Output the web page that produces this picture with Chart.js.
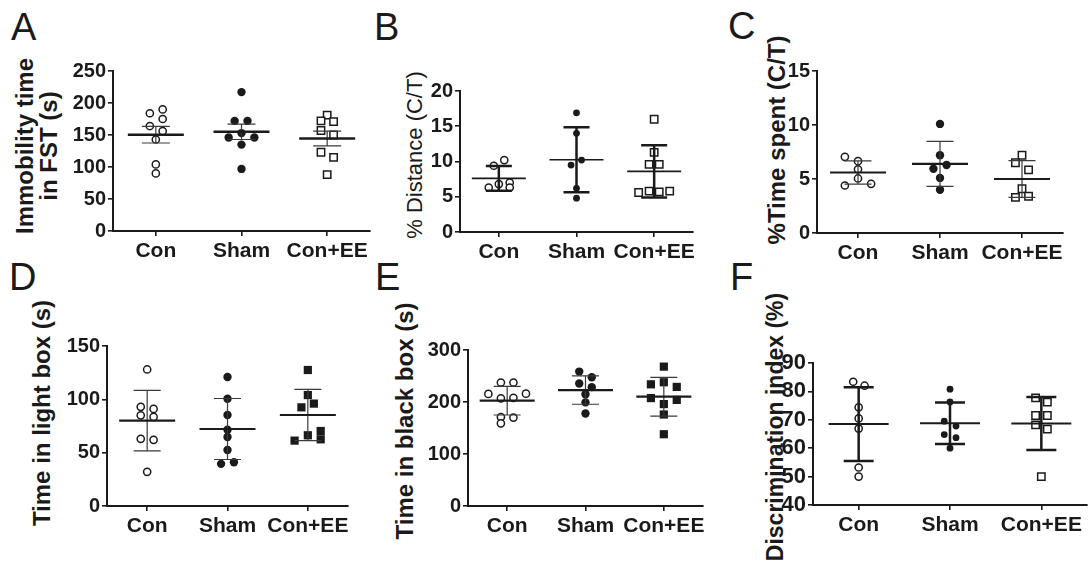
<!DOCTYPE html>
<html><head><meta charset="utf-8">
<script src="https://cdn.jsdelivr.net/npm/chart.js@4/dist/chart.umd.min.js"></script>
<style>
html,body{margin:0;padding:0;background:#fff}
body{width:1091px;height:567px;position:relative;overflow:hidden;font-family:"Liberation Sans",Arial,sans-serif;color:#1a1a1a}
.letter{position:absolute;font-size:38px;line-height:38px;font-weight:normal}
.yt{position:absolute;white-space:nowrap;text-align:center;transform:translate(-50%,-50%) rotate(-90deg);font-weight:bold;font-size:24px;line-height:24px}
canvas{position:absolute}
</style></head>
<body>
<div class="letter" style="left:11px;top:8px">A</div>
<div class="letter" style="left:374px;top:8px">B</div>
<div class="letter" style="left:728px;top:7px">C</div>
<div class="letter" style="left:9px;top:258px">D</div>
<div class="letter" style="left:375px;top:258px">E</div>
<div class="letter" style="left:730px;top:258px">F</div>
<div class="yt" style="left:37px;top:146px">Immobility time<br>in FST (s)</div>
<div class="yt" style="left:415px;top:155px;font-weight:normal;font-size:22px">% Distance (C/T)</div>
<div class="yt" style="left:777px;top:140px">%Time spent (C/T)</div>
<div class="yt" style="left:42px;top:413px">Time in light box (s)</div>
<div class="yt" style="left:405px;top:421px">Time in black box (s)</div>
<div class="yt" style="left:775px;top:427px;font-size:23px">Discrimination index (%)</div>
<script>
// ---------- data ----------
const categories = ['Con', 'Sham', 'Con+EE'];

// A: Immobility time in FST (s)
const conA  = [184, 190, 175, 164, 156, 143, 104, 90];
const conAx = [-0.07, 0.08, 0.08, -0.07, 0.08, 0, 0, 0];
const shamA  = [217, 172, 172, 146, 153, 146, 135, 97];
const shamAx = [0, -0.08, 0.07, -0.15, 0, 0.15, 0, 0];
const eeA  = [181, 172, 171, 157, 150, 123, 115, 88];
const eeAx = [0, -0.072, 0.075, -0.072, 0.075, -0.072, 0.075, 0];
const meanA = [150.5, 155, 144.5];
const errA  = [13, 12, 11.5];
const ticksA = [0, 50, 100, 150, 200, 250];

// B: % Distance (C/T)
const conB  = [10.2, 9.4, 6.8, 6.3, 7.0, 6.3];
const conBx = [0.07, -0.065, 0, -0.13, 0.14, 0.14];
const shamB  = [16.9, 14.0, 10.2, 9.5, 6.2, 4.8];
const shamBx = [0, 0, 0.065, -0.07, 0, 0];
const eeB  = [16.0, 11.3, 9.6, 9.6, 5.8, 5.6, 5.7, 5.8];
const eeBx = [0, 0, -0.065, 0.065, -0.065, -0.2, 0.065, 0.2];
const meanB = [7.6, 10.25, 8.6];
const errB  = [1.75, 4.6, 3.7];
const ticksB = [0, 5, 10, 15, 20];

// C: %Time spent (C/T)
const conC  = [7.05, 6.65, 5.9, 5.05, 4.4, 4.55];
const conCx = [-0.16, 0, 0, 0, -0.16, 0.16];
const shamC  = [10.1, 7.2, 5.95, 6.3, 5.1, 4.0];
const shamCx = [0, 0, -0.08, 0.08, 0, 0];
const eeC  = [7.2, 6.5, 5.85, 4.1, 3.3, 3.4];
const eeCx = [0, -0.08, 0.08, 0, -0.08, 0.08];
const meanC = [5.6, 6.4, 5.0];
const errC  = [1.08, 2.08, 1.7];
const ticksC = [0, 5, 10, 15];

// D: Time in light box (s)
const conD  = [128, 93, 91, 85, 83.5, 63, 62, 32];
const conDx = [0, -0.08, 0.08, -0.08, 0.08, -0.08, 0.08, 0];
const shamD  = [121, 100.5, 85.3, 71.5, 64.7, 52.5, 39.5, 41];
const shamDx = [0, 0, 0, 0, 0, 0, -0.08, 0.08];
const eeD  = [127.5, 104, 96, 92.5, 70.3, 66.3, 62.5, 61.3];
const eeDx = [0, 0, 0.075, -0.08, 0.16, 0, 0.16, -0.165];
const meanD = [80, 72.2, 85.3];
const errD  = [28.4, 28.6, 24];
const ticksD = [0, 50, 100, 150];

// E: Time in black box (s)
const conE  = [237.5, 237.5, 215.5, 216, 207, 208, 171, 170, 159];
const conEx = [-0.08, 0.08, -0.24, 0.24, -0.08, 0.08, -0.08, 0.08, -0.08];
const shamE  = [258.5, 247.7, 235.5, 228.6, 215, 199.3, 178];
const shamEx = [-0.08, 0.08, -0.08, 0.08, 0, 0, 0];
const eeE  = [268, 238, 234, 229, 207.5, 204, 196, 176, 138];
const eeEx = [0, 0, -0.165, 0.165, -0.165, 0.165, 0, 0, 0];
const meanE = [202.5, 223, 210.2];
const errE  = [27.5, 27.3, 37.2];
const ticksE = [0, 100, 200, 300];

// F: Discrimination index (%)
const conF  = [83.4, 82, 74.4, 70.5, 66.9, 53.2, 50];
const conFx = [-0.06, 0.065, 0, 0, 0, 0, 0];
const shamF  = [80.8, 76.3, 69.5, 67.8, 64.8, 63.7, 60];
const shamFx = [0, 0, -0.063, 0.066, -0.063, 0.066, 0];
const eeF  = [77.7, 76.2, 71.5, 71.5, 68.2, 66.7, 50];
const eeFx = [-0.063, 0.066, -0.063, 0.066, -0.063, 0.066, 0];
const meanF = [68.5, 68.8, 68.7];
const errF  = [13, 7.3, 9.3];
const ticksF = [40, 50, 60, 70, 80, 90];

// ---------- drawing ----------
const INK = '#1a1a1a';
const FAMILY = "'Liberation Sans', Arial, sans-serif";

const MARK = {
  openCircle:  {pointStyle: 'circle', pointRadius: 3.6, pointBorderWidth: 1.5, pointBackgroundColor: '#fff', pointBorderColor: INK},
  fillCircle:  {pointStyle: 'circle', pointRadius: 4.2, pointBorderWidth: 0, pointBackgroundColor: INK, pointBorderColor: INK},
  smallFill:   {pointStyle: 'circle', pointRadius: 3.4, pointBorderWidth: 0, pointBackgroundColor: INK, pointBorderColor: INK},
  openSquare:  {pointStyle: 'rect', pointRadius: 5.2, pointBorderWidth: 1.5, pointBackgroundColor: '#fff', pointBorderColor: INK},
  fillSquare:  {pointStyle: 'rect', pointRadius: 5.8, pointBorderWidth: 0, pointBackgroundColor: INK, pointBorderColor: INK}
};

function meanErrPlugin(st) {
  return {
    id: 'meanErr',
    afterDatasetsDraw(chart) {
      const {ctx, scales: {x, y}} = chart;
      st.means.forEach((m, i) => {
        const cx = x.getPixelForValue(i);
        const yt = y.getPixelForValue(m + st.errs[i]);
        const yb = y.getPixelForValue(m - st.errs[i]);
        const ym = y.getPixelForValue(m);
        ctx.save();
        ctx.lineCap = 'butt';
        ctx.strokeStyle = st.wColor;
        ctx.lineWidth = st.wWidth;
        ctx.beginPath();
        ctx.moveTo(cx, yt); ctx.lineTo(cx, yb);
        ctx.moveTo(cx - st.capHalf, yt); ctx.lineTo(cx + st.capHalf, yt);
        ctx.moveTo(cx - st.capHalf, yb); ctx.lineTo(cx + st.capHalf, yb);
        ctx.stroke();
        ctx.strokeStyle = INK;
        ctx.lineWidth = st.mWidth;
        ctx.beginPath();
        ctx.moveTo(cx - st.meanHalf, ym); ctx.lineTo(cx + st.meanHalf, ym);
        ctx.stroke();
        ctx.restore();
      });
    }
  };
}

function makePanel(p) {
  const yW = 60, xH = 42, padT = 16, padR = 20;
  const canvas = document.createElement('canvas');
  const w = p.R - p.L + yW + padR, h = p.B - p.T + padT + xH;
  canvas.width = w; canvas.height = h;
  canvas.style.left = (p.L - yW) + 'px';
  canvas.style.top = (p.T - padT) + 'px';
  canvas.style.width = w + 'px';
  canvas.style.height = h + 'px';
  document.body.appendChild(canvas);

  const datasets = p.groups.map((g, i) => Object.assign({
    data: g.v.map((v, k) => ({x: i + g.j[k], y: v})),
    showLine: false,
    clip: false
  }, MARK[g.m]));

  const tickFont = {family: FAMILY, weight: 'bold', size: p.tickSize || 20};
  new Chart(canvas, {
    type: 'scatter',
    data: {datasets},
    options: {
      responsive: false,
      animation: false,
      devicePixelRatio: 1,
      events: [],
      layout: {padding: {top: padT, right: padR, left: 0, bottom: 0}},
      plugins: {legend: {display: false}, tooltip: {enabled: false}},
      scales: {
        x: {
          type: 'linear', min: -0.5, max: 2.5,
          afterBuildTicks: s => { s.ticks = categories.map((c, i) => ({value: i})); },
          afterFit: s => { s.height = xH; },
          ticks: {callback: v => categories[v], font: {family: FAMILY, weight: 'bold', size: 21}, color: INK, padding: 3, autoSkip: false, maxRotation: 0, minRotation: 0},
          grid: {display: true, drawOnChartArea: false, drawTicks: true, tickLength: 5, color: INK, lineWidth: 1.6},
          border: {display: true, color: INK, width: 2}
        },
        y: {
          type: 'linear', min: p.ticks[0], max: p.ticks[p.ticks.length - 1],
          afterBuildTicks: s => { s.ticks = p.ticks.map(v => ({value: v})); },
          afterFit: s => { s.width = yW; },
          ticks: {font: tickFont, color: INK, padding: 2, autoSkip: false},
          grid: {display: true, drawOnChartArea: false, drawTicks: true, tickLength: 5, color: INK, lineWidth: 1.6},
          border: {display: true, color: INK, width: 2}
        }
      }
    },
    plugins: [meanErrPlugin(p.style)]
  });
}

const thinW = {wColor: '#3a3a3a', wWidth: 1.2, mWidth: 2.2};
const thickW = {wColor: INK, wWidth: 2.5, mWidth: 2};

makePanel({L: 113, R: 370, T: 71, B: 231, ticks: ticksA,
  groups: [{v: conA, j: conAx, m: 'openCircle'}, {v: shamA, j: shamAx, m: 'fillCircle'}, {v: eeA, j: eeAx, m: 'openSquare'}],
  style: Object.assign({means: meanA, errs: errA, meanHalf: 28, capHalf: 14}, thinW, {mWidth: 2.6})});

makePanel({L: 460, R: 693, T: 91, B: 232, ticks: ticksB,
  groups: [{v: conB, j: conBx, m: 'openCircle'}, {v: shamB, j: shamBx, m: 'smallFill'}, {v: eeB, j: eeBx, m: 'openSquare'}],
  style: Object.assign({means: meanB, errs: errB, meanHalf: 27, capHalf: 13}, thickW, {mWidth: 1.6})});

makePanel({L: 817, R: 1063, T: 71, B: 233, ticks: ticksC,
  groups: [{v: conC, j: conCx, m: 'openCircle'}, {v: shamC, j: shamCx, m: 'fillCircle'}, {v: eeC, j: eeCx, m: 'openSquare'}],
  style: Object.assign({means: meanC, errs: errC, meanHalf: 28, capHalf: 13.5}, thinW)});

makePanel({L: 107, R: 348, T: 346, B: 506, ticks: ticksD,
  groups: [{v: conD, j: conDx, m: 'openCircle'}, {v: shamD, j: shamDx, m: 'fillCircle'}, {v: eeD, j: eeDx, m: 'fillSquare'}],
  style: Object.assign({means: meanD, errs: errD, meanHalf: 28, capHalf: 13.5}, thinW)});

makePanel({L: 468, R: 703, T: 350, B: 506, ticks: ticksE,
  groups: [{v: conE, j: conEx, m: 'openCircle'}, {v: shamE, j: shamEx, m: 'fillCircle'}, {v: eeE, j: eeEx, m: 'fillSquare'}],
  style: Object.assign({means: meanE, errs: errE, meanHalf: 27.5, capHalf: 13.5}, thinW)});

makePanel({L: 813, R: 1087, T: 363, B: 505, ticks: ticksF, tickSize: 22,
  groups: [{v: conF, j: conFx, m: 'openCircle'}, {v: shamF, j: shamFx, m: 'smallFill'}, {v: eeF, j: eeFx, m: 'openSquare'}],
  style: Object.assign({means: meanF, errs: errF, meanHalf: 30, capHalf: 15}, thickW)});
</script>
</body></html>
